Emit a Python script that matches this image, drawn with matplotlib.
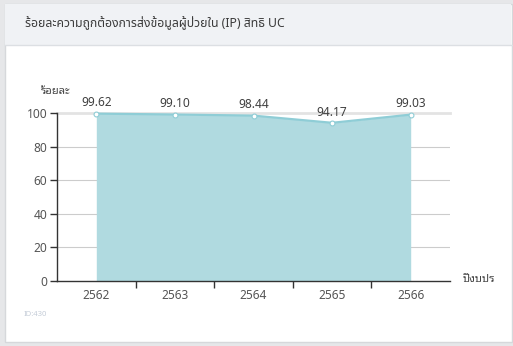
import matplotlib
matplotlib.use("Agg")
import matplotlib.pyplot as plt
from matplotlib.patches import Rectangle
from matplotlib.ticker import FixedLocator

years = ["2562", "2563", "2564", "2565", "2566"]
accuracy = [99.62, 99.10, 98.44, 94.17, 99.03]
y_ticks = [0, 20, 40, 60, 80, 100]

title = "ร้อยละความถูกต้องการส่งข้อมูลผู้ป่วยใน (IP) สิทธิ UC"
y_label = "ร้อยละ"
x_label = "ปีงบปร"
footer = "ID:430"

W, H = 513, 346
FONT = ["Noto Sans Thai", "Noto Sans", "DejaVu Sans"]
FONT_LOOP = ["Noto Sans Thai Looped", "Noto Sans", "DejaVu Sans"]
LATIN = ["Noto Sans", "DejaVu Sans"]
plt.rcParams["font.family"] = FONT

fig = plt.figure(figsize=(W / 100, H / 100), dpi=100)
fig.patch.set_facecolor("#e6e7e9")


def px(x, y):
    return x / W, 1 - y / H


# card, header band and separator (behind the axes)
card_x0, card_y0, card_x1, card_y1 = 4.5, 3.5, 512, 342
fig.patches.append(Rectangle(px(card_x0, card_y1), (card_x1 - card_x0) / W,
                             (card_y1 - card_y0) / H, transform=fig.transFigure,
                             facecolor="white", edgecolor="#d6d8db", lw=1, zorder=-3))
fig.patches.append(Rectangle(px(card_x0 + 0.5, 45), (card_x1 - card_x0 - 1) / W,
                             (45 - card_y0 - 0.5) / H, transform=fig.transFigure,
                             facecolor="#f0f2f5", edgecolor="none", zorder=-2))
fig.lines.append(plt.Line2D([card_x0 / W, card_x1 / W], [1 - 45 / H, 1 - 45 / H],
                            transform=fig.transFigure, color="#dcdfe3", lw=1, zorder=-1))

fig.text(*px(25, 23), title, fontsize=8.8, color="#3a3a3a", va="center", ha="left")
fig.text(*px(24, 315), footer, fontsize=5.5, color="#c5cdd8", va="center", ha="left",
         family=LATIN)

# plot area
left, right, top, bottom = 57, 450, 113, 281
ax = fig.add_axes([left / W, 1 - bottom / H, (right - left) / W, (bottom - top) / H])
ax.set_facecolor("none")
x = list(range(len(years)))
ax.set_xlim(-0.5, len(years) - 0.5)
ax.set_ylim(0, 100)

for v in y_ticks[1:-1]:
    ax.axhline(v, color="#cccccc", lw=0.8, zorder=1)
ax.axhline(100, color="#e3e3e3", lw=2.0, zorder=1, clip_on=False)

ax.fill_between(x, accuracy, 0, color="#b0dae0", lw=0, zorder=2)
ax.plot(x, accuracy, color="#8fcdd6", lw=1.6, zorder=3, clip_on=False)
ax.plot(x, accuracy, ls="none", marker="o", ms=3.5, mfc="white", mec="#8fcdd6",
        mew=0.8, zorder=4, clip_on=False)

for xi, v in zip(x, accuracy):
    ax.annotate(f"{v:.2f}", (xi, v), xytext=(0, 3), textcoords="offset points",
                ha="center", va="bottom", fontsize=8.6, color="#404040", family=LATIN)

for s in ["top", "right"]:
    ax.spines[s].set_visible(False)
for s in ["left", "bottom"]:
    ax.spines[s].set_color("#333333")
    ax.spines[s].set_linewidth(1.0)
    ax.spines[s].set_zorder(5)

ax.set_yticks(y_ticks)
ax.tick_params(axis="y", length=5, width=1, color="#333333", labelcolor="#555555",
               labelsize=8.6, pad=2)
ax.set_xticks(x)
ax.set_xticklabels(years)
ax.tick_params(axis="x", which="major", length=0, labelcolor="#555555", labelsize=8.6, pad=6)
ax.xaxis.set_minor_locator(FixedLocator([i + 0.5 for i in x[:-1]]))
ax.tick_params(axis="x", which="minor", length=5, width=1, color="#333333")
for lab in ax.get_xticklabels() + ax.get_yticklabels():
    lab.set_family(LATIN)

fig.text(*px(56, 92), y_label, fontsize=8, color="#444444", ha="center", va="center",
         family=FONT_LOOP)
fig.text(*px(463, 280), x_label, fontsize=8, color="#444444", ha="left", va="center",
         family=FONT_LOOP)

fig.savefig("out.png", dpi=100, facecolor=fig.get_facecolor())
